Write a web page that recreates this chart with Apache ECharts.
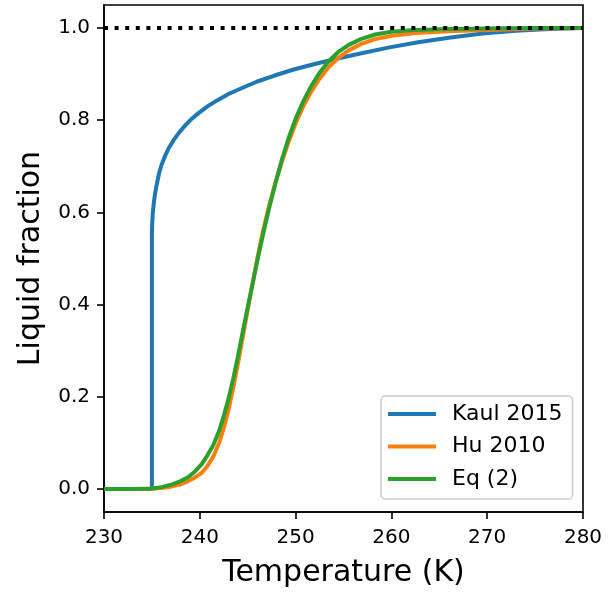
<!DOCTYPE html>
<html>
<head>
<meta charset="utf-8">
<script src="https://cdn.jsdelivr.net/npm/echarts@6/dist/echarts.min.js"></script>
<style>html,body{margin:0;padding:0;background:#fff}#c{width:608px;height:596px}</style>
</head>
<body>
<div id="c"></div>
<script>
// ---- data ----
const kaulT = [230, 235.0, 235.0, 235.03, 235.08, 235.15, 235.23, 235.35, 235.5, 235.75, 236.0, 236.4, 236.8, 237.3, 237.8, 238.4, 239.1, 239.9, 240.8, 241.8, 243.0, 244.4, 246.0, 247.8, 249.8, 252.0, 254.4, 257.0, 259.8, 262.8, 266.0, 269.5, 273.0, 276.5, 280];
const kaulF = [0, 0, 0.55, 0.575, 0.595, 0.611, 0.626, 0.643, 0.66, 0.685, 0.703, 0.724, 0.741, 0.758, 0.772, 0.787, 0.802, 0.816, 0.830, 0.843, 0.857, 0.870, 0.884, 0.897, 0.910, 0.922, 0.934, 0.946, 0.958, 0.969, 0.979, 0.988, 0.994, 0.998, 1.0];

const huT = [230, 233.0, 235.0, 236.0, 237.0, 238.0, 238.8, 239.5, 240.2, 240.8, 241.4, 242.0, 242.5, 243.0, 243.5, 244.0, 244.5, 245.0, 245.5, 246.0, 246.6, 247.2, 247.9, 248.6, 249.3, 250.0, 250.8, 251.6, 252.5, 253.4, 254.4, 255.5, 256.8, 258.3, 260.0, 262.5, 266.0, 270.0, 275.0, 280];
const huF = [0, 0, 0.0005, 0.002, 0.005, 0.01, 0.017, 0.025, 0.035, 0.05, 0.07, 0.099, 0.132, 0.172, 0.22, 0.274, 0.331, 0.389, 0.445, 0.5, 0.56, 0.612, 0.665, 0.712, 0.755, 0.793, 0.83, 0.861, 0.89, 0.914, 0.934, 0.951, 0.965, 0.976, 0.983, 0.989, 0.993, 0.996, 0.999, 1.0];

const eqT = [230, 233.0, 235.0, 236.0, 237.0, 238.0, 238.8, 239.5, 240.2, 240.8, 241.4, 242.0, 242.5, 243.0, 243.5, 244.0, 244.5, 245.0, 245.5, 246.0, 246.6, 247.2, 247.9, 248.6, 249.3, 250.0, 250.8, 251.6, 252.5, 253.4, 254.4, 255.5, 256.8, 258.3, 260.0, 262.5, 266.0, 270.0, 275.0, 280];
const eqF = [0, 0, 0.001, 0.004, 0.009, 0.017, 0.026, 0.038, 0.054, 0.073, 0.095, 0.125, 0.158, 0.196, 0.24, 0.29, 0.343, 0.394, 0.444, 0.495, 0.552, 0.606, 0.664, 0.717, 0.763, 0.803, 0.841, 0.873, 0.903, 0.927, 0.947, 0.963, 0.976, 0.986, 0.992, 0.996, 0.998, 0.999, 1.0, 1.0];

const refT = [230, 280];
const refLevel = 1.0;

const seriesNames = ['Kaul 2015', 'Hu 2010', 'Eq (2)'];
const xTicks = [230, 240, 250, 260, 270, 280];
const yTicks = [0.0, 0.2, 0.4, 0.6, 0.8, 1.0];
// ---------------

const colors = ['#1f77b4', '#ff7f0e', '#2ca02c'];
const zip = (a, b) => a.map((v, i) => [v, b[i]]);
const font = 'DejaVu Sans';

const chart = echarts.init(document.getElementById('c'), null, {renderer: 'canvas'});
const lineSeries = (name, T, F, i) => ({
  name, type: 'line', data: zip(T, F), showSymbol: false, symbol: 'none',
  smooth: false, color: colors[i],
  lineStyle: {width: 4, color: colors[i], cap: 'butt', join: 'round'},
  z: 2 + i, animation: false
});

chart.setOption({
  animation: false,
  textStyle: {fontFamily: font},
  grid: {left: 104, top: 5, width: 479, height: 507, show: true, borderColor: '#000', borderWidth: 1.6, backgroundColor: 'transparent'},
  xAxis: {
    type: 'value', position: 'bottom', min: xTicks[0], max: xTicks[xTicks.length - 1], interval: 10,
    name: 'Temperature (K)', nameLocation: 'middle', nameGap: 46,
    nameTextStyle: {fontSize: 30, color: '#000', fontFamily: font},
    axisLine: {show: true, onZero: false, lineStyle: {color: '#000', width: 1.6}},
    axisTick: {show: true, length: 7, inside: false, lineStyle: {color: '#000', width: 1.6}},
    axisLabel: {show: true, fontSize: 20, color: '#000', margin: 16, fontFamily: font},
    splitLine: {show: false}
  },
  yAxis: {
    type: 'value', position: 'left', min: -0.05, max: 1.05,
    name: 'Liquid fraction', nameLocation: 'middle', nameGap: 58, nameRotate: 90,
    nameTextStyle: {fontSize: 30, color: '#000', fontFamily: font},
    axisLine: {show: true, onZero: false, lineStyle: {color: '#000', width: 1.6}},
    axisTick: {show: true, length: 7, lineStyle: {color: '#000', width: 1.6}, customValues: yTicks},
    axisLabel: {fontSize: 20, color: '#000', margin: 14, fontFamily: font, customValues: yTicks,
      formatter: v => v.toFixed(1)},
    splitLine: {show: false}
  },
  legend: {
    data: seriesNames.map((n, i) => ({name: n, itemStyle: {color: colors[i]}})),
    orient: 'vertical', left: 381, top: 396,
    icon: 'rect', itemWidth: 48, itemHeight: 4, itemGap: 10.5,
    padding: [7, 10, 9, 7],
    backgroundColor: 'rgba(255,255,255,0.8)', borderColor: '#cccccc', borderWidth: 1.5, borderRadius: 4,
    textStyle: {fontSize: 22, color: '#000', fontFamily: font, lineHeight: 22, padding: [0, 0, 0, 11]},
    itemStyle: {borderWidth: 0}
  },
  series: [
    lineSeries(seriesNames[0], kaulT, kaulF, 0),
    lineSeries(seriesNames[1], huT, huF, 1),
    lineSeries(seriesNames[2], eqT, eqF, 2),
    {
      name: 'ref', type: 'line', data: refT.map(t => [t, refLevel]), showSymbol: false, symbol: 'none',
      lineStyle: {color: '#000', width: 4, type: [4, 6.6], cap: 'butt'}, z: 10, silent: true
    }
  ]
});
</script>
</body>
</html>
